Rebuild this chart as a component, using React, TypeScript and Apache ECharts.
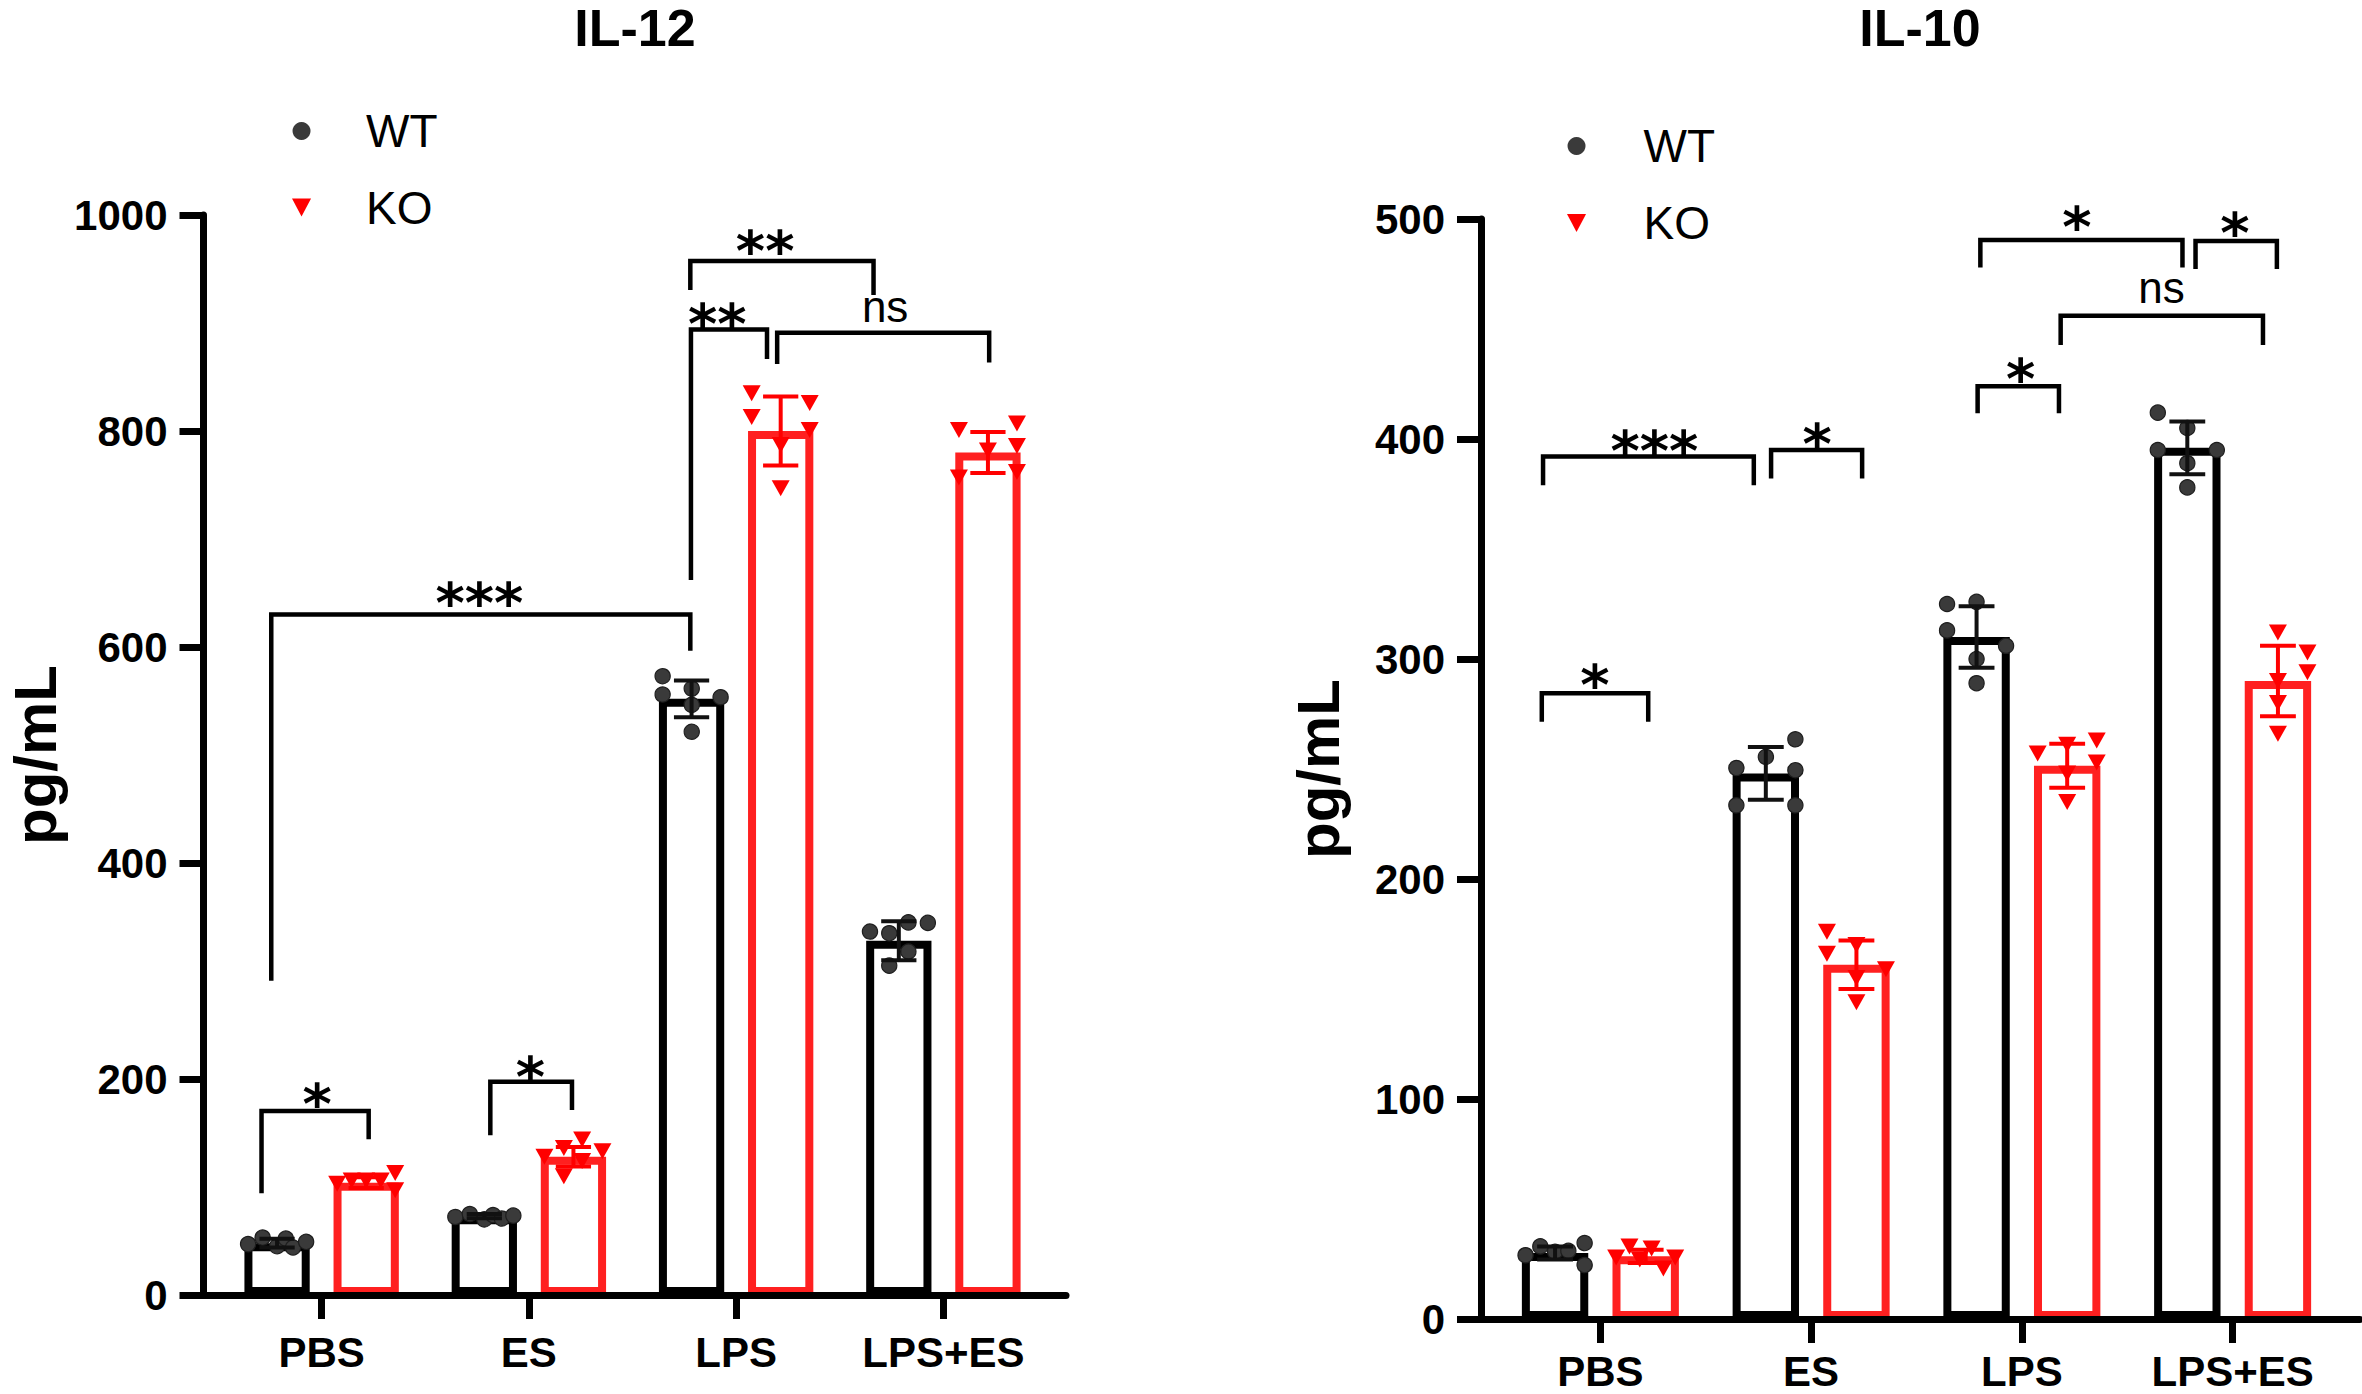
import React, { useEffect, useRef } from "react";
import * as echarts from "echarts";

// ---------------- data ----------------
const CATEGORIES = ["PBS", "ES", "LPS", "LPS+ES"];
const SERIES_NAMES = ["WT", "KO"];

// IL-12 panel
const IL12_TICKS = [0, 200, 400, 600, 800, 1000];
const IL12_WT_MEAN = [48, 73, 552, 328];
const IL12_WT_SD = [4, 2, 17, 18];
const IL12_KO_MEAN = [104, 128, 800, 780];
const IL12_KO_SD = [5, 9, 32, 19];
const IL12_WT_POINTS = [
  [48, 54, 46, 53, 44, 50],
  [73, 76, 71, 75, 72, 74],
  [574, 563, 557, 554, 548, 523],
  [338, 335, 345, 345, 318, 305],
];
const IL12_KO_POINTS = [
  [103, 106, 106, 106, 113, 97],
  [128, 136, 144, 133, 124, 110],
  [835, 813, 826, 801, 787, 747],
  [801, 807, 786, 782, 757, 762],
];
// significance brackets (x in category units, y in pg/mL)
const IL12_SIG_LABELS = ["*", "*", "***", "**", "**", "ns"];
const IL12_SIG_X0 = [-0.29, 0.814, -0.243, 1.779, 1.782, 2.198];
const IL12_SIG_X1 = [0.227, 1.208, 1.779, 2.663, 2.149, 3.221];
const IL12_SIG_TOP = [170.4, 197.5, 630, 957.4, 894, 891];
const IL12_SIG_LEFT_END = [94.2, 148, 291, 930.6, 662, 862];
const IL12_SIG_RIGHT_END = [144.2, 171.3, 596.5, 926, 866.7, 863.4];
const IL12_SIG_LABEL_X = [-0.022, 1.007, 0.761, 2.14, 1.909, 2.719];
const IL12_SIG_LABEL_Y = [189.8, 214.8, 654, 980, 912, 912];

// IL-10 panel
const IL10_TICKS = [0, 100, 200, 300, 400, 500];
const IL10_WT_MEAN = [30, 248, 310, 396];
const IL10_WT_SD = [3, 12, 14, 12];
const IL10_KO_MEAN = [28.5, 161, 251.5, 290];
const IL10_KO_SD = [3, 11, 10, 16];
const IL10_WT_POINTS = [
  [29, 33, 31, 31, 35, 25],
  [264, 256, 251, 250, 234, 234],
  [325, 326, 313, 306, 300, 289],
  [412, 405, 395, 395, 389, 378],
];
const IL10_KO_POINTS = [
  [33, 32, 28, 27, 28, 23],
  [176, 166, 170, 159, 155, 144],
  [257, 261, 263, 253, 248, 235],
  [312, 303, 294, 290, 280, 266],
];
const IL10_SIG_LABELS = ["*", "***", "*", "*", "ns", "*", "*"];
const IL10_SIG_X0 = [-0.278, -0.272, 0.81, 1.79, 2.184, 1.803, 2.824];
const IL10_SIG_X1 = [0.227, 0.728, 1.242, 2.176, 3.144, 2.762, 3.21];
const IL10_SIG_TOP = [284.4, 392, 395, 424, 456, 490.5, 490];
const IL10_SIG_LEFT_END = [271.5, 379, 382, 411.7, 442.7, 478, 477.3];
const IL10_SIG_RIGHT_END = [271.5, 379, 382, 411.7, 442.7, 478, 477.3];
const IL10_SIG_LABEL_X = [-0.026, 0.256, 1.029, 1.994, 2.663, 2.261, 3.011];
const IL10_SIG_LABEL_Y = [294.5, 401, 404, 433.6, 467, 503, 500.3];

// ---------------- layout (horizontal spread of dots inside each bar, -1..1) ----------------
const IL12_WT_JITTER = [
  [-1, -0.5, 0, 0.3, 0.55, 1],
  [-1, -0.5, 0, 0.3, 0.6, 1],
  [-1, 0, -1, 1, 0, 0],
  [-1, -0.33, 0.33, 1, 0.33, -0.33],
];
const IL12_KO_JITTER = [
  [-1, -0.5, 0, 0.5, 1, 1],
  [-1, -0.33, 0.3, 1, 0.3, -0.33],
  [-1, -1, 1, 1, 0, 0],
  [-1, 1, 1, 0, -1, 1],
];
const IL10_WT_JITTER = [
  [-1, -0.5, 0, 0.45, 1, 1],
  [1, 0, -1, 1, -1, 1],
  [-1, 0, -1, 1, 0, 0],
  [-1, 0, -1, 1, 0, 0],
];
const IL10_KO_JITTER = [
  [-0.55, 0.2, -1, -0.2, 1, 0.6],
  [-1, -1, 0, 1, 0, 0],
  [-1, 0, 1, 1, 0, 0],
  [0, 1, 1, 0, 0, 0],
];

const FONT = '"Liberation Sans", Arial, sans-serif';
const STAR_FONT = '"DejaVu Sans", sans-serif';
const RED_BAR = "#ff2020";
const RED_PT = "#ff0000";
const DOT = "#3a3a3a";

const BAR_OFFSET = 0.215; // half distance between WT/KO bar centres (band fraction)
const JITTER = 0.14; // band fraction
const CAP = 0.085; // error-bar cap half width (band fraction)
const STAR_SIZE = 56;

type Sig = {
  labels: string[];
  x0: number[];
  x1: number[];
  top: number[];
  le: number[];
  re: number[];
  lx: number[];
  ly: number[];
};

type Panel = {
  title: string;
  ticks: number[];
  wtMean: number[];
  wtSd: number[];
  koMean: number[];
  koSd: number[];
  wtPts: number[][];
  koPts: number[][];
  wtJit: number[][];
  koJit: number[][];
  sig: Sig;
  outer: { left: number; top: number; width: number; height: number };
  inner: { left: number; top: number; width: number; height: number };
  titleX: number;
  nameGap: number;
  catMargin: number;
  legend: { left: number; top: number; itemWidth: number; itemGap: number };
};

const PANELS: Panel[] = [
  {
    title: "IL-12",
    ticks: IL12_TICKS,
    wtMean: IL12_WT_MEAN,
    wtSd: IL12_WT_SD,
    koMean: IL12_KO_MEAN,
    koSd: IL12_KO_SD,
    wtPts: IL12_WT_POINTS,
    koPts: IL12_KO_POINTS,
    wtJit: IL12_WT_JITTER,
    koJit: IL12_KO_JITTER,
    sig: {
      labels: IL12_SIG_LABELS,
      x0: IL12_SIG_X0,
      x1: IL12_SIG_X1,
      top: IL12_SIG_TOP,
      le: IL12_SIG_LEFT_END,
      re: IL12_SIG_RIGHT_END,
      lx: IL12_SIG_LABEL_X,
      ly: IL12_SIG_LABEL_Y,
    },
    outer: { left: 203.5, top: 215, width: 862.5, height: 1080 },
    inner: { left: 218, top: 215, width: 829, height: 1080 },
    titleX: 635,
    nameGap: 138,
    catMargin: 36,
    legend: { left: 292, top: 108, itemWidth: 119, itemGap: 30.6 },
  },
  {
    title: "IL-10",
    ticks: IL10_TICKS,
    wtMean: IL10_WT_MEAN,
    wtSd: IL10_WT_SD,
    koMean: IL10_KO_MEAN,
    koSd: IL10_KO_SD,
    wtPts: IL10_WT_POINTS,
    koPts: IL10_KO_POINTS,
    wtJit: IL10_WT_JITTER,
    koJit: IL10_KO_JITTER,
    sig: {
      labels: IL10_SIG_LABELS,
      x0: IL10_SIG_X0,
      x1: IL10_SIG_X1,
      top: IL10_SIG_TOP,
      le: IL10_SIG_LEFT_END,
      re: IL10_SIG_RIGHT_END,
      lx: IL10_SIG_LABEL_X,
      ly: IL10_SIG_LABEL_Y,
    },
    outer: { left: 1481, top: 219, width: 879, height: 1100 },
    inner: { left: 1495, top: 219, width: 843, height: 1100 },
    titleX: 1920,
    nameGap: 133,
    catMargin: 31,
    legend: { left: 1567, top: 123, itemWidth: 124, itemGap: 31 },
  },
];

function pointSeries(name: string, idx: number, side: number, pts: number[][], jit: number[][], tri: boolean) {
  const data: number[][] = [];
  pts.forEach((arr, c) => arr.forEach((v, k) => data.push([c, v, jit[c][k]])));
  return {
    type: "custom",
    name,
    xAxisIndex: idx,
    yAxisIndex: idx,
    z: 4,
    silent: true,
    encode: { x: 0, y: 1 },
    data,
    renderItem: (params: any, api: any) => {
      const band = api.size([1, 0])[0];
      const p = api.coord([api.value(0), api.value(1)]);
      const x = p[0] + side * BAR_OFFSET * band + api.value(2) * JITTER * band;
      const y = p[1];
      if (!tri) {
        return {
          type: "circle",
          shape: { cx: x, cy: y, r: 7.6 },
          style: { fill: DOT, stroke: "#1e1e1e", lineWidth: 1.2 },
        };
      }
      return {
        type: "polygon",
        shape: { points: [[x - 9, y - 8], [x + 9, y - 8], [x, y + 8]] },
        style: { fill: RED_PT, stroke: "none" },
      };
    },
  };
}

function errorSeries(name: string, idx: number, side: number, mean: number[], sd: number[], color: string) {
  return {
    type: "custom",
    name,
    xAxisIndex: idx,
    yAxisIndex: idx,
    z: 5,
    silent: true,
    encode: { x: 0, y: 1 },
    data: mean.map((m, c) => [c, m, sd[c]]),
    renderItem: (params: any, api: any) => {
      const band = api.size([1, 0])[0];
      const c = api.value(0);
      const m = api.value(1);
      const s = api.value(2);
      const x = api.coord([c, m])[0] + side * BAR_OFFSET * band;
      const yt = api.coord([c, m + s])[1];
      const yb = api.coord([c, m - s])[1];
      const hw = CAP * band;
      const st = { stroke: color, lineWidth: 4, fill: "none" };
      return {
        type: "group",
        children: [
          { type: "line", shape: { x1: x, y1: yt, x2: x, y2: yb }, style: st },
          { type: "line", shape: { x1: x - hw, y1: yt, x2: x + hw, y2: yt }, style: st },
          { type: "line", shape: { x1: x - hw, y1: yb, x2: x + hw, y2: yb }, style: st },
        ],
      };
    },
  };
}

function sigSeries(idx: number, sig: Sig) {
  return {
    type: "custom",
    name: "sig",
    xAxisIndex: idx,
    yAxisIndex: idx,
    z: 6,
    silent: true,
    encode: { x: 0, y: 1 },
    data: sig.labels.map((_, i) => [0, sig.top[i]]),
    renderItem: (params: any, api: any) => {
      const i = params.dataIndex;
      const band = api.size([1, 0])[0];
      const x0 = api.coord([0, 0])[0];
      const X = (v: number) => x0 + v * band;
      const Y = (v: number) => api.coord([0, v])[1];
      const star = sig.labels[i] !== "ns";
      return {
        type: "group",
        children: [
          {
            type: "polyline",
            shape: {
              points: [
                [X(sig.x0[i]), Y(sig.le[i])],
                [X(sig.x0[i]), Y(sig.top[i])],
                [X(sig.x1[i]), Y(sig.top[i])],
                [X(sig.x1[i]), Y(sig.re[i])],
              ],
            },
            style: { stroke: "#000", lineWidth: 4.5, fill: "none", lineJoin: "miter" },
          },
          {
            type: "text",
            x: X(sig.lx[i]),
            y: Y(sig.ly[i]) + (star ? 0.244 * STAR_SIZE : -3.8),
            style: {
              text: sig.labels[i],
              fill: "#000",
              fontSize: star ? STAR_SIZE : 44,
              fontWeight: star ? "bold" : "normal",
              fontFamily: star ? STAR_FONT : FONT,
              textAlign: "center",
              textVerticalAlign: "middle",
              align: "center",
              verticalAlign: "middle",
            },
          },
        ],
      };
    },
  };
}

function buildOption() {
  const grid: any[] = [];
  const xAxis: any[] = [];
  const yAxis: any[] = [];
  const series: any[] = [];
  const legend: any[] = [];
  const graphic: any[] = [];

  PANELS.forEach((p, k) => {
    const oi = k * 2;
    const ii = k * 2 + 1;
    const min = p.ticks[0];
    const max = p.ticks[p.ticks.length - 1];
    const interval = p.ticks[1] - p.ticks[0];
    grid.push({ ...p.outer, containLabel: false });
    grid.push({ ...p.inner, containLabel: false });

    xAxis.push({
      gridIndex: oi,
      type: "value",
      min: 0,
      max: 1,
      z: 10,
      axisLine: { show: true, onZero: false, lineStyle: { color: "#000", width: 7 } },
      axisTick: { show: false },
      axisLabel: { show: false },
      splitLine: { show: false },
    });
    xAxis.push({
      gridIndex: ii,
      type: "category",
      data: CATEGORIES,
      axisLine: { show: false },
      axisTick: {
        show: true,
        alignWithLabel: true,
        interval: 0,
        length: 24,
        lineStyle: { color: "#000", width: 7 },
      },
      axisLabel: {
        interval: 0,
        color: "#000",
        fontSize: 42,
        fontWeight: "bold",
        fontFamily: FONT,
        margin: p.catMargin,
      },
      splitLine: { show: false },
    });
    yAxis.push({
      gridIndex: oi,
      type: "value",
      min,
      max,
      interval,
      name: "pg/mL",
      nameLocation: "middle",
      nameRotate: 90,
      nameGap: p.nameGap,
      nameTextStyle: { color: "#000", fontSize: 60, fontWeight: "bold", fontFamily: FONT },
      axisLine: { show: true, lineStyle: { color: "#000", width: 7 } },
      axisTick: { show: true, length: 24, lineStyle: { color: "#000", width: 7 } },
      axisLabel: {
        color: "#000",
        fontSize: 42,
        fontWeight: "bold",
        fontFamily: FONT,
        margin: 36,
        formatter: (v: number) => String(v),
      },
      splitLine: { show: false },
    });
    yAxis.push({ gridIndex: ii, type: "value", min, max, interval, show: false, splitLine: { show: false } });

    series.push({
      type: "bar",
      name: SERIES_NAMES[0],
      xAxisIndex: ii,
      yAxisIndex: ii,
      z: 2,
      barWidth: "31.5%",
      barGap: "36.5%",
      data: p.wtMean,
      itemStyle: { color: "rgba(255,255,255,0)", borderColor: "#000", borderWidth: 8 },
      silent: true,
    });
    series.push({
      type: "bar",
      name: SERIES_NAMES[1],
      xAxisIndex: ii,
      yAxisIndex: ii,
      z: 2,
      barWidth: "31.5%",
      barGap: "36.5%",
      data: p.koMean,
      itemStyle: { color: "rgba(255,255,255,0)", borderColor: RED_BAR, borderWidth: 8 },
      silent: true,
    });
    series.push(pointSeries(SERIES_NAMES[0], ii, -1, p.wtPts, p.wtJit, false));
    series.push(pointSeries(SERIES_NAMES[1], ii, 1, p.koPts, p.koJit, true));
    series.push(errorSeries(SERIES_NAMES[0], ii, -1, p.wtMean, p.wtSd, "#111"));
    series.push(errorSeries(SERIES_NAMES[1], ii, 1, p.koMean, p.koSd, RED_PT));
    series.push(sigSeries(ii, p.sig));

    legend.push({
      left: p.legend.left,
      top: p.legend.top,
      orient: "vertical",
      padding: 0,
      itemWidth: p.legend.itemWidth,
      itemHeight: 18,
      itemGap: p.legend.itemGap,
      selectedMode: false,
      textStyle: { color: "#000", fontSize: 46, fontFamily: FONT, lineHeight: 46 },
      data: [
        { name: SERIES_NAMES[0], icon: "circle", itemStyle: { color: DOT, borderWidth: 0 } },
        { name: SERIES_NAMES[1], icon: "path://M0,0L18,0L9,17Z", itemStyle: { color: RED_PT, borderWidth: 0 } },
      ],
    });

    graphic.push({
      type: "text",
      x: p.titleX,
      y: 28,
      style: {
        text: p.title,
        fill: "#000",
        fontSize: 52,
        fontWeight: "bold",
        fontFamily: FONT,
        textAlign: "center",
        textVerticalAlign: "middle",
        align: "center",
        verticalAlign: "middle",
      },
    });
  });

  return {
    animation: false,
    backgroundColor: "#ffffff",
    grid,
    xAxis,
    yAxis,
    legend,
    graphic,
    series,
  };
}

export default function App() {
  const ref = useRef<HTMLDivElement>(null);
  useEffect(() => {
    document.body.style.margin = "0";
    if (!ref.current) return;
    const chart = echarts.init(ref.current, undefined, { renderer: "svg" });
    chart.setOption(buildOption() as any);
    return () => chart.dispose();
  }, []);
  return <div ref={ref} style={{ width: 2362, height: 1394, background: "#fff" }} />;
}
